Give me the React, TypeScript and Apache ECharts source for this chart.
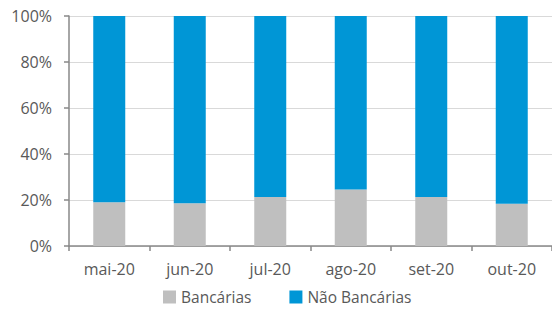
import React, { useEffect, useRef } from "react";
import * as echarts from "echarts";

const categories = ["mai-20", "jun-20", "jul-20", "ago-20", "set-20", "out-20"];
const bancarias = [19.0, 18.6, 21.3, 24.6, 21.3, 18.4];
const naoBancarias = [81.0, 81.4, 78.7, 75.4, 78.7, 81.6];
const seriesNames = ["Bancárias", "Não Bancárias"];

const FONT = '"Open Sans", "Noto Sans", sans-serif';
const TEXT = "#595959";
const AXIS = "#898989";

export default function App() {
  const ref = useRef<HTMLDivElement>(null);
  useEffect(() => {
    if (!ref.current) return;
    const chart = echarts.init(ref.current, null, { renderer: "svg" });
    chart.setOption({
      animation: false,
      backgroundColor: "#ffffff",
      textStyle: { fontFamily: FONT },
      grid: { left: 69, top: 16, width: 486, bottom: 63, containLabel: false },
      legend: {
        left: 158,
        bottom: -1,
        itemWidth: 13,
        itemHeight: 13,
        itemGap: 38,
        icon: "rect",
        textStyle: { color: TEXT, fontSize: 15.5, fontFamily: FONT },
        data: seriesNames,
      },
      xAxis: {
        type: "category",
        data: categories,
        boundaryGap: true,
        axisLine: { show: true, lineStyle: { color: AXIS, width: 1.5 } },
        axisTick: { show: true, alignWithLabel: false, length: 5, lineStyle: { color: AXIS, width: 1.5 } },
        axisLabel: { color: TEXT, fontSize: 16, margin: 15, fontFamily: FONT },
        splitLine: { show: false },
      },
      yAxis: {
        type: "value",
        min: 0,
        max: 100,
        interval: 20,
        axisLine: { show: true, lineStyle: { color: AXIS, width: 1.5 } },
        axisTick: { show: true, length: 5, lineStyle: { color: AXIS, width: 1.5 } },
        axisLabel: { color: TEXT, fontSize: 16, margin: 17, formatter: "{value}%", fontFamily: FONT },
        splitLine: { show: true, lineStyle: { color: "#d9d9d9", width: 1 } },
      },
      series: [
        {
          name: seriesNames[0],
          type: "bar",
          stack: "total",
          data: bancarias,
          barWidth: 32,
          itemStyle: { color: "#BFBFBF" },
        },
        {
          name: seriesNames[1],
          type: "bar",
          stack: "total",
          data: naoBancarias,
          barWidth: 32,
          itemStyle: { color: "#0096D6" },
        },
      ],
    });
    return () => chart.dispose();
  }, []);
  return (
    <div
      ref={ref}
      style={{ position: "absolute", left: 0, top: 0, width: 552, height: 309 }}
    />
  );
}
